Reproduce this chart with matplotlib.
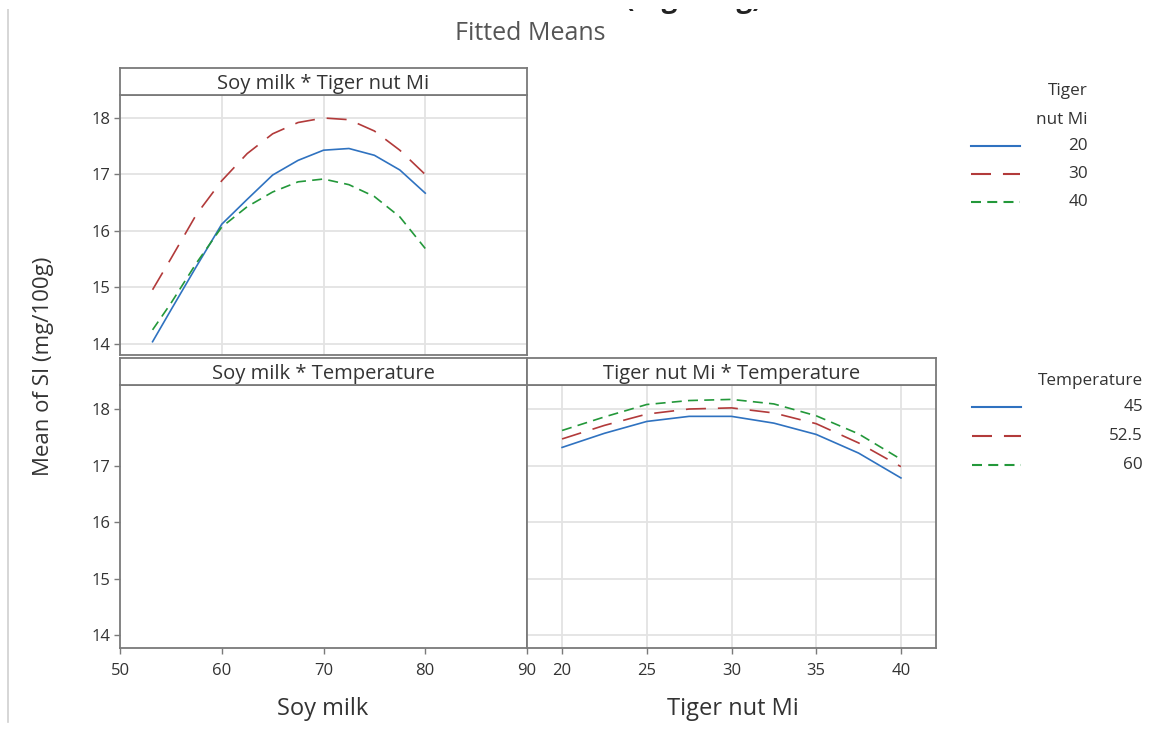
import matplotlib
matplotlib.use("Agg")
import matplotlib.pyplot as plt
from matplotlib.lines import Line2D
from matplotlib.patches import Rectangle

plt.rcParams['font.family'] = ['Open Sans', 'DejaVu Sans']
plt.rcParams['lines.scale_dashes'] = False

# ---- data ----
soy_milk = [53.2, 55, 57.5, 60, 62.5, 65, 67.5, 70, 72.5, 75, 77.5, 80]
tiger_20 = [14.04, 14.60, 15.37, 16.12, 16.56, 16.99, 17.25, 17.43, 17.46, 17.34, 17.08, 16.67]
tiger_30 = [14.96, 15.51, 16.29, 16.89, 17.37, 17.72, 17.92, 18.00, 17.97, 17.77, 17.43, 17.00]
tiger_40 = [14.25, 14.72, 15.43, 16.07, 16.43, 16.69, 16.87, 16.92, 16.82, 16.61, 16.25, 15.69]

tiger_nut = [20, 22.5, 25, 27.5, 30, 32.5, 35, 37.5, 40]
temp_45 = [17.32, 17.57, 17.78, 17.87, 17.87, 17.75, 17.55, 17.22, 16.78]
temp_525 = [17.47, 17.71, 17.91, 18.00, 18.02, 17.93, 17.74, 17.40, 16.98]
temp_60 = [17.62, 17.86, 18.08, 18.15, 18.17, 18.09, 17.88, 17.56, 17.11]

tiger_levels = ['20', '30', '40']
temp_levels = ['45', '52.5', '60']
soy_ticks = [50, 60, 70, 80, 90]
tiger_ticks = [20, 25, 30, 35, 40]
y_ticks = [14, 15, 16, 17, 18]

# ---- styles ----
BLUE, RED, GREEN = '#2f72c0', '#b23a3a', '#23983a'
styles = [dict(color=BLUE, ls='-'),
          dict(color=RED, ls=(0, (14.4, 8.6))),
          dict(color=GREEN, ls=(0, (7.2, 4.5)))]
LW = 1.2
FRAME = '#7a7a7a'
GRID = '#e3e3e3'
TXT = '#333333'
TICK_FS = 12
LEG_FS = 12.3
STRIP_FS = 14.5
LAB_FS = 17

W, H = 1166, 746
fig = plt.figure(figsize=(W / 100, H / 100), dpi=100)


def box(x0, y0, x1, y1):
    return [x0 / W, 1 - y1 / H, (x1 - x0) / W, (y1 - y0) / H]


def make_panel(rect, xlim, ylim):
    ax = fig.add_axes(rect)
    ax.set_xlim(*xlim)
    ax.set_ylim(*ylim)
    for s in ax.spines.values():
        s.set_color(FRAME)
        s.set_linewidth(1.3)
    ax.tick_params(colors=FRAME, labelcolor=TXT, labelsize=TICK_FS, length=4, width=1, pad=3)
    ax.tick_params(axis='x', pad=7)
    return ax


def make_strip(rect, label):
    sa = fig.add_axes(rect)
    sa.set_xticks([]); sa.set_yticks([])
    for s in sa.spines.values():
        s.set_color(FRAME)
        s.set_linewidth(1.3)
    sa.text(0.5, 0.40, label, ha='center', va='center', fontsize=STRIP_FS, color=TXT,
            transform=sa.transAxes)
    return sa


# top-left panel
ax1 = make_panel(box(120, 95, 527, 355), (50, 90), (13.805, 18.407))
ax1.set_xticks(soy_ticks)
ax1.set_yticks(y_ticks)
ax1.grid(True, color=GRID, lw=1.3)
ax1.set_axisbelow(True)
ax1.tick_params(axis='x', bottom=False, labelbottom=False)
for vals, st in zip([tiger_20, tiger_30, tiger_40], styles):
    ax1.plot(soy_milk, vals, lw=LW, **st)
make_strip(box(120, 68, 527, 95), 'Soy milk * Tiger nut Mi')

# bottom-left panel (empty)
ax2 = make_panel(box(120, 385, 527, 648), (50, 90), (13.77, 18.425))
ax2.set_xticks(soy_ticks)
ax2.set_yticks(y_ticks)
make_strip(box(120, 358, 527, 385), 'Soy milk * Temperature')

# bottom-right panel
ax3 = make_panel(box(527, 385, 936, 648), (17.93, 42.07), (13.77, 18.425))
ax3.set_xticks(tiger_ticks)
ax3.set_yticks(y_ticks)
ax3.grid(True, color=GRID, lw=1.3)
ax3.set_axisbelow(True)
ax3.tick_params(axis='y', left=False, labelleft=False)
for vals, st in zip([temp_45, temp_525, temp_60], styles):
    ax3.plot(tiger_nut, vals, lw=LW, **st)
make_strip(box(527, 358, 936, 385), 'Tiger nut Mi * Temperature')

# overlay for texts and legends (pixel coordinates)
ov = fig.add_axes([0, 0, 1, 1], facecolor='none')
ov.set_xlim(0, W); ov.set_ylim(H, 0); ov.axis('off')

ov.plot([8, 8], [9, 722], color='#d0d0d0', lw=1.2)
# main title, cropped at the top in the original screenshot
ov.text(762, 7, 'Interaction Plot for SI (mg/100g)', ha='right', va='baseline',
        fontsize=20, fontweight='bold', color='#222222', zorder=1)
ov.add_patch(Rectangle((0, -20), W, 28.5, facecolor='white', edgecolor='none', zorder=2))

ov.text(530, 33, 'Fitted Means', ha='center', va='center', fontsize=18, color='#555555')
ov.text(44, 366, 'Mean of SI (mg/100g)', ha='center', va='center', rotation=90,
        fontsize=16, color=TXT)
ov.text(323, 709, 'Soy milk', ha='center', va='center', fontsize=LAB_FS, color=TXT)
ov.text(733, 709, 'Tiger nut Mi', ha='center', va='center', fontsize=LAB_FS, color=TXT)

# legend 1
ov.text(1088, 91, 'Tiger', ha='right', va='center', fontsize=LEG_FS, color=TXT)
ov.text(1088, 120, 'nut Mi', ha='right', va='center', fontsize=LEG_FS, color=TXT)
for yy, lab, st in zip([146, 174, 202], tiger_levels, styles):
    ov.add_line(Line2D([971, 1020], [yy, yy], lw=LW + 0.3, **st))
    ov.text(1088, yy, lab, ha='right', va='center', fontsize=LEG_FS, color=TXT)

# legend 2
ov.text(1143, 381, 'Temperature', ha='right', va='center', fontsize=LEG_FS, color=TXT)
for yy, lab, st in zip([407, 436, 465], temp_levels, styles):
    ov.add_line(Line2D([972, 1021], [yy, yy], lw=LW + 0.3, **st))
    ov.text(1143, yy, lab, ha='right', va='center', fontsize=LEG_FS, color=TXT)

fig.savefig('out.png', dpi=100)
